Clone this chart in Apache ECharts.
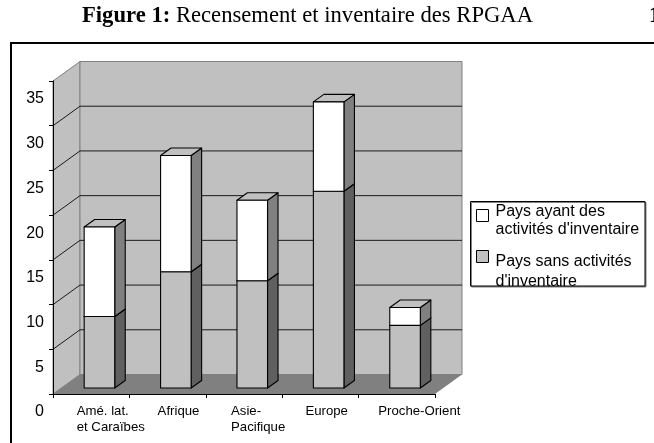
<!DOCTYPE html>
<html>
<head>
<meta charset="utf-8">
<style>html,body{margin:0;padding:0;background:#fff}#main{width:654px;height:443px}</style>
<script src="https://cdn.jsdelivr.net/npm/echarts@6/dist/echarts.min.js"></script>
</head>
<body>
<div id="main"></div>
<script>
const categories = ["Amé. lat.\net Caraïbes", "Afrique", "Asie-\nPacifique", "Europe", "Proche-Orient"];
const sansInventaire = [8, 13, 12, 22, 7];
const avecInventaire = [10, 13, 9, 10, 2];
const yTicks = [5, 10, 15, 20, 25, 30, 35];

const sansName = "Pays sans activités\nd'inventaire";
const avecName = "Pays ayant des\nactivités d'inventaire";

// profondeur du faux 3D, en pixels
const wallDX = 27, wallDY = 19.5;
const barDX = 10.5, barDY = 7.5;
const barShiftX = (wallDX - barDX) / 2, barShiftY = (wallDY - barDY) / 2;
const barRatio = 0.4;
// décalage des libellés de l'axe X (alignés à gauche dans l'original)
const labelShift = [-14.5, -10, -13, -15, -18.5];

function renderWalls(params, api) {
  const band = api.size([1, 0])[0];
  const left = api.coord([0, 0])[0] - band / 2;
  const right = left + band * categories.length;
  const y0 = api.coord([0, 0])[1];
  const yTop = api.coord([0, yTicks[yTicks.length - 1]])[1];
  const children = [
    { type: "polygon", shape: { points: [[left, y0], [left + wallDX, y0 - wallDY], [left + wallDX, yTop - wallDY], [left, yTop]] },
      style: { fill: "#c0c0c0", stroke: "#808080", lineWidth: 1 } },
    { type: "rect", shape: { x: left + wallDX, y: yTop - wallDY, width: right - left, height: y0 - yTop },
      style: { fill: "#c0c0c0", stroke: "#808080", lineWidth: 1 } },
    { type: "polygon", shape: { points: [[left, y0], [right, y0], [right + wallDX, y0 - wallDY], [left + wallDX, y0 - wallDY]] },
      style: { fill: "#808080" } },
  ];
  yTicks.slice(0, -1).forEach((v) => {
    const y = api.coord([0, v])[1];
    children.push({ type: "polyline", shape: { points: [[left, y], [left + wallDX, y - wallDY], [right + wallDX, y - wallDY]] },
      style: { fill: null, stroke: "#1a1a1a", lineWidth: 1 } });
  });
  return { type: "group", children };
}

function renderBox(sideColor, params, api) {
  const i = api.value(0);
  const width = api.size([1, 0])[0] * barRatio;
  const x0 = api.coord([i, 0])[0] - width / 2 + barShiftX;
  const yBase = api.coord([i, api.value(2)])[1] - barShiftY;
  const yTop = api.coord([i, api.value(1)])[1] - barShiftY;
  const line = { stroke: "#000", lineWidth: 1.1, lineJoin: "round" };
  return {
    type: "group",
    children: [
      { type: "polygon", shape: { points: [[x0 + width, yBase], [x0 + width + barDX, yBase - barDY], [x0 + width + barDX, yTop - barDY], [x0 + width, yTop]] },
        style: Object.assign({ fill: sideColor }, line) },
      { type: "polygon", shape: { points: [[x0, yTop], [x0 + barDX, yTop - barDY], [x0 + width + barDX, yTop - barDY], [x0 + width, yTop]] },
        style: Object.assign({ fill: "#c0c0c0" }, line) },
      { type: "rect", shape: { x: x0, y: yTop, width: width, height: yBase - yTop },
        style: Object.assign({ fill: api.visual("color") }, line) },
    ],
  };
}

// la légende centre le texte sur l'icône : une ligne vide le fait descendre
function legendLabel(name) {
  const lines = name.split("\n");
  if (name === avecName) return "{s1| }\n{a|" + lines[0] + "}\n{a|" + lines[1] + "}";
  return "{s2| }\n{b|" + lines[0] + "}\n{b|" + lines[1] + "}";
}

const legendFont = { fontFamily: "Liberation Sans", fontSize: 16, color: "#000", padding: [0, 0, 0, 2] };

const chart = echarts.init(document.getElementById("main"), null, { renderer: "canvas" });
chart.setOption({
  animation: false,
  backgroundColor: "#fff",
  textStyle: { fontFamily: "Liberation Sans" },
  title: [
    {
      text: "{b|Figure 1:} Recensement et inventaire des RPGAA",
      left: 82, top: 5, padding: 0,
      textStyle: {
        fontFamily: "Liberation Serif", fontSize: 22.65, fontWeight: "normal", color: "#000",
        rich: { b: { fontFamily: "Liberation Serif", fontSize: 22.65, fontWeight: "bold", color: "#000" } },
      },
    },
    {
      text: "1", left: 649, top: 5, padding: 0,
      textStyle: { fontFamily: "Liberation Serif", fontSize: 22.5, fontWeight: "bold", color: "#000" },
    },
  ],
  graphic: [
    { type: "polyline", silent: true, z: 1, shape: { points: [[11, 445], [11, 43], [656, 43]] },
      style: { fill: null, stroke: "#000", lineWidth: 2 } },
    { type: "rect", silent: true, z: 1, shape: { x: 470.5, y: 201.5, width: 174.5, height: 84.5 },
      style: { fill: "#fff", stroke: "#000", lineWidth: 1, shadowColor: "#808080", shadowOffsetX: 1, shadowOffsetY: 1 } },
  ],
  legend: {
    left: 476, top: 193.5, padding: 0, orient: "vertical",
    data: [
      { name: avecName, icon: "rect" },
      { name: sansName, icon: "rect" },
    ],
    itemWidth: 12, itemHeight: 12, itemGap: -5.5,
    selectedMode: false,
    z: 10,
    itemStyle: { borderColor: "#000", borderWidth: 1 },
    formatter: legendLabel,
    textStyle: {
      rich: {
        s1: { fontSize: 8, lineHeight: 11 },
        s2: { fontSize: 8, lineHeight: 30 },
        a: Object.assign({ lineHeight: 18 }, legendFont),
        b: Object.assign({ lineHeight: 20 }, legendFont),
      },
    },
  },
  grid: { left: 53, right: 219, top: 81, bottom: 49, containLabel: false },
  xAxis: {
    type: "category",
    data: categories.map((c, i) => ({
      value: c,
      textStyle: {
        align: "left", verticalAlign: "top", fontSize: 13.2, lineHeight: 15.7, color: "#000",
        fontFamily: "Liberation Sans", padding: [0, 0, 0, labelShift[i]],
      },
    })),
    z: 5,
    axisLine: { lineStyle: { color: "#000", width: 1 } },
    axisTick: { show: true, length: 4, alignWithLabel: false, lineStyle: { color: "#000" } },
    axisLabel: { interval: 0, margin: 10, hideOverlap: false },
  },
  yAxis: {
    type: "value", min: 0, max: 35, interval: 5,
    z: 5,
    axisLine: { show: true, lineStyle: { color: "#000", width: 1 } },
    axisTick: { show: true, length: 4, lineStyle: { color: "#000" } },
    splitLine: { show: false },
    axisLabel: {
      margin: 9, verticalAlign: "top", padding: [10, 0, 0, 0], fontSize: 16,
      color: "#000", fontFamily: "Liberation Sans",
    },
  },
  series: [
    {
      name: "walls", type: "custom", z: 2, silent: true, clip: false,
      data: [[0, 0]], renderItem: renderWalls, encode: { x: 0, y: 1 },
    },
    {
      name: sansName, type: "custom", z: 3, clip: false,
      itemStyle: { color: "#c0c0c0" },
      data: categories.map((c, i) => [i, sansInventaire[i], 0]),
      encode: { x: 0, y: 1 },
      renderItem: (p, api) => renderBox("#606060", p, api),
    },
    {
      name: avecName, type: "custom", z: 4, clip: false,
      itemStyle: { color: "#ffffff" },
      data: categories.map((c, i) => [i, sansInventaire[i] + avecInventaire[i], sansInventaire[i]]),
      encode: { x: 0, y: 1 },
      renderItem: (p, api) => renderBox("#808080", p, api),
    },
  ],
});
</script>
</body>
</html>
